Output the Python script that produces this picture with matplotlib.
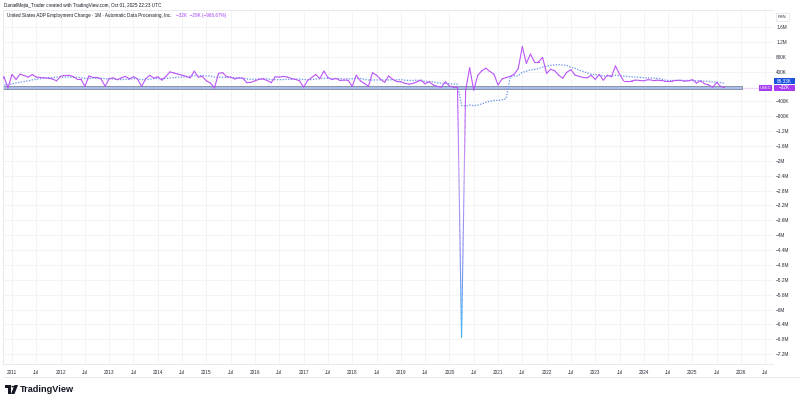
import numpy as np
import pandas as pd
import matplotlib
matplotlib.use("Agg")
import matplotlib.pyplot as plt
import matplotlib.transforms as mtransforms
from matplotlib.collections import LineCollection
from matplotlib.colors import LinearSegmentedColormap, Normalize
from matplotlib.patches import Rectangle, Polygon, Circle
from matplotlib.lines import Line2D

plt.rcParams['font.family'] = ['Liberation Sans', 'DejaVu Sans']

# ---------------- data (thousands of jobs, monthly) ----------------
# Dec 2009 - Oct 2010: left of the visible window, only feed the moving average
hidden_start = (2009, 12)
hidden_vals = [-60, -20, -30, 40, 50, 60, 10, 40, 30, 40, 60]
# visible series starts Nov 2010
v2010 = [260, -40]
v2011 = [320, 190, 330, 290, 250, 320, 250, 240, 230, 220, 200, 150]
v2012 = [270, 300, 300, 270, 200, 200, 0, 280, 240, 240, 200, 0]
v2013 = [210, 230, 180, 230, 270, 200, 260, 200, 0, 200, 300, 220]
v2014 = [260, 170, 270, 390, 360, 330, 300, 270, 230, 410, 250, 270]
v2015 = [150, 90, -40, 350, 370, 260, 250, 200, 230, 220, 100, 110]
v2016 = [150, 190, 200, 160, 100, 260, 250, 270, 250, 210, 190, 150]
v2017 = [-20, 160, 240, 320, 210, 410, 240, 185, 215, 160, 170, 165]
v2018 = [0, 300, 150, 80, 0, 370, 300, 190, 110, 280, 190, 130]
v2019 = [125, 85, 60, 80, 125, 170, 70, 125, 40, 0, -20, 125]
v2020 = [10, -20, -30, -6740, -100, 500, -100, 300, 420, 490, 400, 330]
v2021 = [40, 200, 240, 270, 330, 480, 1070, 620, 870, 660, 660, 780]
v2022 = [350, 460, 420, 300, 220, 380, 450, 306, 270, 240, 230, 300]
v2023 = [190, 320, 170, 300, 260, 550, 330, 150, 150, 150, 170, 160]
v2024 = [150, 180, 170, 170, 160, 150, 150, 150, 160, 166, 140, 150]
v2025 = [180, 90, 150, 70, 40, -20, 105, -3, -32]

ma_period = 12
year_ticks = list(range(2011, 2027))
ytick_vals = [v for v in np.arange(-7.2e6, 1.61e6, 0.4e6) if abs(v) > 1]

title_text = "United States ADP Employment Change \u00b7 1M \u00b7 Automatic Data Processing, Inc."
header_text = "DanielMejia_Trader created with TradingView.com, Oct 01, 2025 22:23 UTC"
symbol_tag = "USEC"

# ---------------- build series ----------------
vals_k = hidden_vals + v2010 + v2011 + v2012 + v2013 + v2014 + v2015 + v2016 + \
    v2017 + v2018 + v2019 + v2020 + v2021 + v2022 + v2023 + v2024 + v2025
vals = np.array(vals_k, dtype=float) * 1e3
n = len(vals)
t = hidden_start[0] + (hidden_start[1] - 1) / 12 + np.arange(n) / 12.0
ma = pd.Series(vals).rolling(ma_period, min_periods=1).mean().values

# ---------------- figure ----------------
W, H = 800, 401
fig = plt.figure(figsize=(W / 100, H / 100), dpi=100)
fig.patch.set_facecolor('white')

ax_l, ax_r, ax_t, ax_b = 3, 773, 10, 364
ax = fig.add_axes([ax_l / W, 1 - ax_b / H, (ax_r - ax_l) / W, (ax_b - ax_t) / H])
ymin, ymax = -7.462e6, 2.054e6
xmin, xmax = 2010.815, 2026.658
ax.set_xlim(xmin, xmax)
ax.set_ylim(ymin, ymax)
per_px = (ymax - ymin) / (ax_b - ax_t)

# grid
for yv in ytick_vals:
    ax.axhline(yv, color='#f1f2f5', lw=0.6, zorder=0)
xt = []
xl = []
for y in year_ticks:
    for half, lab in ((0.0, str(y)), (0.5, 'Jul')):
        if xmin < y + half < xmax:
            xt.append(y + half)
            xl.append(lab)
for xv in xt:
    ax.axvline(xv, color='#f1f2f5', lw=0.6, zorder=0)

# last value price line (faint)
ax.axhline(vals[-1], color='#f0d8fb', lw=0.9, zorder=1)

# band at zero
band_end = (742 - ax_l) / (ax_r - ax_l)
ax.axhspan(-75e3, 0, xmin=0, xmax=band_end, facecolor='#a9bff0',
           edgecolor='#8c93a3', lw=0.7, zorder=2)

# moving average (dotted)
ax.plot(t, ma, color='#7199ee', lw=0.95, linestyle=(0, (1, 1.1)), zorder=3)

# main line with gradient on negative values
cmap = LinearSegmentedColormap.from_list('tvgrad', ['#3fb4f2', '#8a92f0', '#c09cf5', '#bb55f7'])
norm = Normalize(vmin=vals.min(), vmax=0)
segs, cols = [], []
for i in range(n - 1):
    x0, y0, x1, y1 = t[i], vals[i], t[i + 1], vals[i + 1]
    k = 1 if (y0 >= -2e5 and y1 >= -2e5) else 40
    for j in range(k):
        a, b = j / k, (j + 1) / k
        ya, yb = y0 + (y1 - y0) * a, y0 + (y1 - y0) * b
        segs.append([(x0 + (x1 - x0) * a, ya), (x0 + (x1 - x0) * b, yb)])
        cols.append(cmap(norm(min(0.0, (ya + yb) / 2))))
lc = LineCollection(segs, colors=cols, linewidths=0.8, zorder=4, capstyle='round')
ax.add_collection(lc)

# axes styling
ax.spines['right'].set_visible(False)
for s in ('top', 'left', 'bottom'):
    ax.spines[s].set_color('#e4e6eb')
    ax.spines[s].set_linewidth(0.6)

ax.set_xticks(xt)
ax.set_xticklabels(xl)
ax.tick_params(axis='x', length=0, pad=4.2, labelsize=3.4, labelcolor='#2a2e39')


def fmt(v):
    sign = '\u2212' if v < 0 else ''
    a = abs(v)
    if a >= 1e6:
        s = f"{a / 1e6:.1f}".rstrip('0').rstrip('.') + 'M'
    else:
        s = f"{a / 1e3:.0f}K"
    return sign + s


ax.yaxis.tick_right()
ax.set_yticks(ytick_vals)
ax.set_yticklabels([fmt(v) for v in ytick_vals])
ax.tick_params(axis='y', length=0, pad=2.3, labelsize=3.4, labelcolor='#2a2e39')

# price scale labels
bt = mtransforms.blended_transform_factory(ax.transAxes, ax.transData)
frac = 1.0 / (ax_r - ax_l)
box_h = 6 * per_px
last = vals[-1]
ma_last = ma[-1]
ax.add_patch(Rectangle((1 + 1 * frac, last - box_h / 2), 21 * frac, box_h, transform=bt,
                       facecolor='#a63cf2', edgecolor='none', clip_on=False, zorder=6))
ax.text(1 + 11.5 * frac, last, fmt(last), transform=bt, ha='center', va='center',
        fontsize=3.3, color='white', zorder=7, clip_on=False)
ax.add_patch(Rectangle((1 - 14 * frac, last - box_h / 2), 13 * frac, box_h, transform=bt,
                       facecolor='#a63cf2', edgecolor='none', clip_on=False, zorder=6))
ax.text(1 - 7.5 * frac, last, symbol_tag, transform=bt, ha='center', va='center',
        fontsize=3.1, color='white', zorder=7, clip_on=False)
ma_y = last + 6.6 * per_px
ax.add_patch(Rectangle((1 + 1 * frac, ma_y - box_h / 2), 21 * frac, box_h, transform=bt,
                       facecolor='#1c52e0', edgecolor='none', clip_on=False, zorder=6))
ax.text(1 + 11.5 * frac, ma_y, f"{ma_last / 1e3:.2f}K", transform=bt, ha='center', va='center',
        fontsize=3.3, color='white', zorder=7, clip_on=False)

# small scale-mode box at top right
fig.add_artist(Rectangle((776 / W, 1 - 21 / H), 13 / W, 8 / H, transform=fig.transFigure,
                         facecolor='white', edgecolor='#e0e3eb', lw=0.5))
fig.text(782.5 / W, 1 - 17 / H, 'PSN', fontsize=3.0, color='#2a2e39', ha='center', va='center')

# time axis bottom line
fig.add_artist(Line2D([ax_l / W, 1], [1 - 377 / H, 1 - 377 / H], transform=fig.transFigure,
                      color='#e4e6eb', lw=0.6))

# header texts
fig.text(4 / W, 1 - 5 / H, header_text, fontsize=3.3, color='#131722', va='center', ha='left')
t1 = fig.text(7 / W, 1 - 16 / H, title_text, fontsize=3.3, color='#131722', va='center', ha='left')
fig.canvas.draw()
bb = t1.get_window_extent(renderer=fig.canvas.get_renderer())
prev = vals[-2]
chg = last - prev
pct = chg / abs(prev) * 100
fig.text((bb.x1 + 5) / W, 1 - 16 / H,
         f"{fmt(last)}  {fmt(chg)} ({'\u2212' if pct < 0 else '+'}{abs(pct):.2f}%)",
         fontsize=3.3, color='#a63cf2', va='center', ha='left')

# TradingView logo
def P(x, y):
    return (x / W, 1 - y / H)

logo_c = '#131722'
fig.add_artist(Polygon([P(5, 385), P(11, 385), P(11, 394), P(8, 394), P(8, 388), P(5, 388)],
                       closed=True, transform=fig.transFigure, facecolor=logo_c, edgecolor='none'))
fig.add_artist(Circle(P(12.8, 386.6), 1.5 / W, transform=fig.transFigure, facecolor=logo_c, edgecolor='none'))
fig.add_artist(Polygon([P(14.5, 385), P(18, 385), P(14.5, 394), P(11, 394)],
                       closed=True, transform=fig.transFigure, facecolor=logo_c, edgecolor='none'))
fig.text(20 / W, 1 - 389.5 / H, 'TradingView', fontsize=6.6, fontweight='bold',
         color=logo_c, va='center', ha='left')

fig.savefig('out.png', dpi=100, facecolor='white')
